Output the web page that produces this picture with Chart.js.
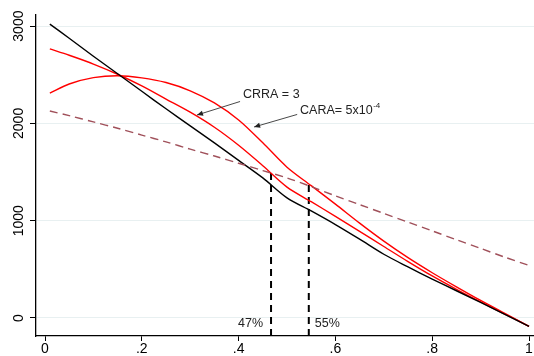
<!DOCTYPE html>
<html>
<head>
<meta charset="utf-8">
<script src="https://cdn.jsdelivr.net/npm/chart.js@4"></script>
<style>
  html, body { margin: 0; padding: 0; background: #fff; }
  #wrap { width: 534px; height: 356px; position: relative; }
</style>
</head>
<body>
<div id="wrap"><canvas id="chart"></canvas></div>
<script>
// data
const shares = [0.01, 0.05, 0.10, 0.15, 0.20, 0.25, 0.30, 0.35, 0.40, 0.45, 0.50,
                0.55, 0.60, 0.65, 0.70, 0.75, 0.80, 0.85, 0.90, 0.95, 1.00];
const riskNeutral = [3020, 2875, 2690, 2510, 2330, 2150, 1975, 1800, 1620, 1440, 1235,
                     1100, 960, 810, 655, 525, 400, 280, 160, 38, -85];
const crra = [2765, 2700, 2610, 2505, 2385, 2250, 2115, 1960, 1775, 1565, 1345,
              1195, 1045, 890, 735, 580, 432, 295, 165, 40, -85];
const cara = [2310, 2405, 2470, 2490, 2468, 2420, 2335, 2210, 2035, 1800, 1550,
              1360, 1170, 975, 790, 620, 465, 320, 180, 47, -85];
const baseline = [2127, 2080, 2015, 1950, 1880, 1810, 1735, 1665, 1590, 1515, 1440,
                  1350, 1255, 1165, 1075, 985, 895, 805, 715, 625, 540];
const cutoffs = [0.467, 0.545];
const cutoffTops = [1490, 1370];
const cutoffLabels = ['47%', '55%'];
const xTicks = [0, 0.2, 0.4, 0.6, 0.8, 1];
const yTicks = [0, 1000, 2000, 3000];

const X_MIN = -0.0186, X_MAX = 1.0103;
const Y_MIN = -185, Y_MAX = 3114;
const FONT = '"Liberation Sans", Arial, sans-serif';

function pts(ys) {
    return shares.map((x, i) => ({ x: x, y: ys[i] }));
}

function lineSet(ys, color, dash) {
    return {
        data: pts(ys),
        showLine: true,
        borderColor: color,
        borderWidth: 1.4,
        borderDash: dash || [],
        pointRadius: 0,
        tension: 0.3,
        fill: false
    };
}

const datasets = [
    lineSet(baseline, '#a0505a', [8, 5]),
    lineSet(riskNeutral, '#000000'),
    lineSet(crra, '#ff0000'),
    lineSet(cara, '#ff0000')
];
cutoffs.forEach((c, i) => {
    datasets.push({
        data: [{ x: c, y: Y_MIN }, { x: c, y: cutoffTops[i] }],
        showLine: true,
        borderColor: '#000',
        borderWidth: 2,
        borderDash: [7, 5],
        pointRadius: 0
    });
});

// text notes with arrows, in data units
const notes = [
    { text: 'CRRA = 3', at: [0.409, 2292], tail: [0.403, 2225], tip: [0.314, 2086] },
    { text: 'CARA= 5x10', sup: '-4', at: [0.527, 2127], tail: [0.521, 2092], tip: [0.432, 1963] }
];

function arrow(ctx, x1, y1, x2, y2) {
    ctx.beginPath();
    ctx.moveTo(x1, y1);
    ctx.lineTo(x2, y2);
    ctx.stroke();
    const a = Math.atan2(y2 - y1, x2 - x1);
    const len = 6, w = 2.6;
    ctx.beginPath();
    ctx.moveTo(x2, y2);
    ctx.lineTo(x2 - len * Math.cos(a) + w * Math.sin(a), y2 - len * Math.sin(a) - w * Math.cos(a));
    ctx.lineTo(x2 - len * Math.cos(a) - w * Math.sin(a), y2 - len * Math.sin(a) + w * Math.cos(a));
    ctx.closePath();
    ctx.fill();
}

const notesPlugin = {
    id: 'notes',
    afterDraw(chart) {
        const ctx = chart.ctx;
        const xs = chart.scales.x, ys = chart.scales.y;
        ctx.save();
        // vertical y tick labels, reading upwards
        ctx.fillStyle = '#000';
        ctx.font = '14px ' + FONT;
        ctx.textAlign = 'center';
        ctx.textBaseline = 'middle';
        yTicks.forEach(v => {
            ctx.save();
            ctx.translate(19, ys.getPixelForValue(v));
            ctx.rotate(-Math.PI / 2);
            ctx.fillText(String(v), 0, 0);
            ctx.restore();
        });

        ctx.strokeStyle = '#333';
        ctx.fillStyle = '#222';
        ctx.lineWidth = 0.9;
        notes.forEach(n => {
            arrow(ctx, xs.getPixelForValue(n.tail[0]), ys.getPixelForValue(n.tail[1]),
                  xs.getPixelForValue(n.tip[0]), ys.getPixelForValue(n.tip[1]));
            const tx = xs.getPixelForValue(n.at[0]), ty = ys.getPixelForValue(n.at[1]);
            ctx.font = '12.5px ' + FONT;
            ctx.textAlign = 'left';
            ctx.fillText(n.text, tx, ty);
            if (n.sup) {
                const w = ctx.measureText(n.text).width;
                ctx.font = '8px ' + FONT;
                ctx.fillText(n.sup, tx + w + 0.5, ty - 5);
            }
        });
        // cutoff labels
        ctx.font = '12.5px ' + FONT;
        cutoffs.forEach((c, i) => {
            const px = xs.getPixelForValue(c);
            const py = ys.getPixelForValue(-55);
            if (i === 0) {
                ctx.textAlign = 'right';
                ctx.fillText(cutoffLabels[i], px - 8, py);
            } else {
                ctx.textAlign = 'left';
                ctx.fillText(cutoffLabels[i], px + 6, py);
            }
        });
        ctx.restore();
    }
};

const tickFont = { family: FONT, size: 14 };

new Chart(document.getElementById('chart'), {
    type: 'scatter',
    data: { datasets: datasets },
    options: {
        responsive: true,
        maintainAspectRatio: false,
        animation: false,
        layout: { padding: { top: 15, right: 0, left: 0, bottom: 0 } },
        plugins: { legend: { display: false }, tooltip: { enabled: false } },
        scales: {
            x: {
                type: 'linear',
                min: X_MIN,
                max: X_MAX,
                afterBuildTicks: s => { s.ticks = xTicks.map(v => ({ value: v })); },
                afterFit: s => { s.height = 20; },
                border: { display: true, color: '#000', width: 1.3 },
                grid: { display: true, color: 'rgba(0,0,0,0)', drawTicks: true, tickLength: 5, tickColor: '#000', tickWidth: 1 },
                ticks: {
                    color: '#000',
                    font: tickFont,
                    padding: 0,
                    maxRotation: 0,
                    callback: v => v === 0 ? '0' : v === 1 ? '1' : String(v).replace(/^0/, '')
                }
            },
            y: {
                type: 'linear',
                min: Y_MIN,
                max: Y_MAX,
                afterBuildTicks: s => { s.ticks = yTicks.map(v => ({ value: v })); },
                afterFit: s => { s.width = 36; },
                border: { display: true, color: '#000', width: 1.3 },
                grid: { display: true, color: '#e8f0f1', lineWidth: 1, drawTicks: true, tickLength: 6, tickColor: '#000', tickWidth: 1 },
                ticks: { display: false }
            }
        }
    },
    plugins: [notesPlugin]
});
</script>
</body>
</html>
